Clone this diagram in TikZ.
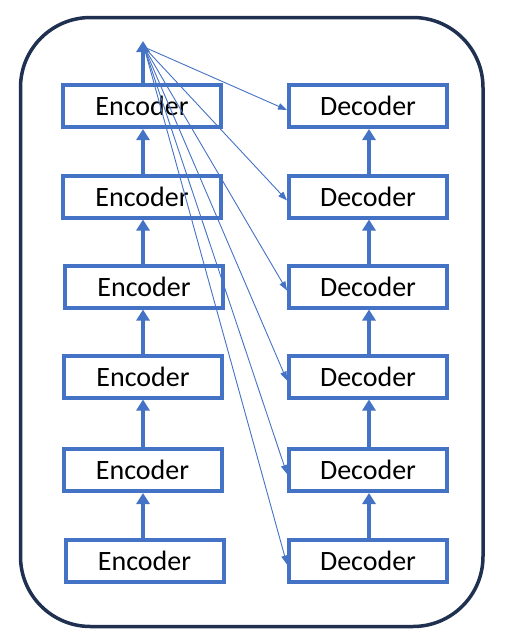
\documentclass[tikz,border=0pt]{standalone}
\usepackage{fontspec}
\setmainfont{Carlito}
\usetikzlibrary{arrows.meta}
\definecolor{boxblue}{HTML}{4472C4}
\definecolor{frame}{HTML}{1F3050}
\begin{document}
\begin{tikzpicture}[x=1pt,y=-1pt,
  blk/.style={draw=boxblue,line width=4pt,minimum width=158pt,minimum height=42pt,inner sep=0pt,font=\fontsize{28}{31}\selectfont},
  thick arr/.style={draw=boxblue,line width=4pt,-{Triangle[length=11pt,width=13pt]}},
  thin arr/.style={draw=boxblue,line width=0.9pt,-{Triangle[length=9pt,width=6.5pt]}}]
\useasboundingbox (0,0) rectangle (507,643);
\draw[frame,line width=3.5pt,rounded corners=70pt] (20.5,17.5) rectangle (483,626.5);
\node[blk] (e1) at (142,106) {Encoder};
\node[blk] (e2) at (142,196.5) {Encoder};
\node[blk] (e3) at (144,286.5) {Encoder};
\node[blk] (e4) at (143,376.5) {Encoder};
\node[blk] (e5) at (142.5,470) {Encoder};
\node[blk] (e6) at (144.5,560.5) {Encoder};
\node[blk] (d1) at (368,106) {Decoder};
\node[blk] (d2) at (368,196.5) {Decoder};
\node[blk] (d3) at (368,286.5) {Decoder};
\node[blk] (d4) at (368,376.5) {Decoder};
\node[blk] (d5) at (368,470) {Decoder};
\node[blk] (d6) at (368,560.5) {Decoder};
\coordinate (top) at (143,41);
\coordinate (fan) at (144,47);
\draw[thick arr] (e6.north -| 143,0) -- (e5.south -| 143,0);
\draw[thick arr] (e5.north -| 143,0) -- (e4.south -| 143,0);
\draw[thick arr] (e4.north -| 143,0) -- (e3.south -| 143,0);
\draw[thick arr] (e3.north -| 143,0) -- (e2.south -| 143,0);
\draw[thick arr] (e2.north -| 143,0) -- (e1.south -| 143,0);
\draw[thick arr] (e1.north -| 143,0) -- (top);
\draw[thick arr] (d6.north -| 369,0) -- (d5.south -| 369,0);
\draw[thick arr] (d5.north -| 369,0) -- (d4.south -| 369,0);
\draw[thick arr] (d4.north -| 369,0) -- (d3.south -| 369,0);
\draw[thick arr] (d3.north -| 369,0) -- (d2.south -| 369,0);
\draw[thick arr] (d2.north -| 369,0) -- (d1.south -| 369,0);
\foreach \d in {d1,d2,d3,d4,d5,d6}
  \draw[thin arr] (fan) -- ([yshift=-4pt]\d.west);
\end{tikzpicture}
\end{document}
